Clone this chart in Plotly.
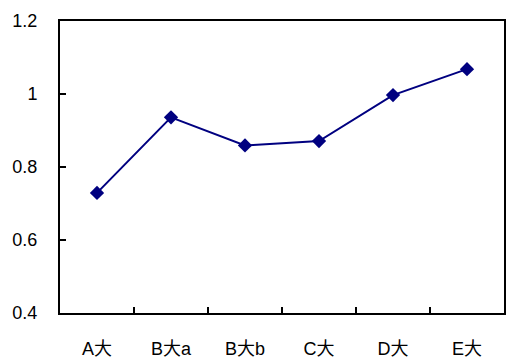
import plotly.graph_objects as go

categories = ["A大", "B大a", "B大b", "C大", "D大", "E大"]
values = [0.729, 0.936, 0.859, 0.871, 0.997, 1.068]
y_ticks = [0.4, 0.6, 0.8, 1.0, 1.2]
y_tick_labels = ["0.4", "0.6", "0.8", "1", "1.2"]

navy = "#000080"
font_family = "Liberation Sans, Noto Sans CJK JP, sans-serif"

fig = go.Figure(
    go.Scatter(
        x=categories,
        y=values,
        mode="lines+markers",
        line=dict(color=navy, width=2),
        marker=dict(symbol="diamond", size=11, color=navy),
        cliponaxis=False,
    )
)

fig.update_layout(
    width=508,
    height=358,
    margin=dict(l=60, r=4, t=21, b=45, autoexpand=False),
    paper_bgcolor="white",
    plot_bgcolor="white",
    showlegend=False,
    font=dict(family=font_family, size=18, color="black"),
)

fig.update_xaxes(
    type="category",
    range=[-0.5, 5.5],
    tickson="boundaries",
    ticks="inside",
    ticklen=6,
    tickwidth=1.5,
    tickcolor="black",
    showline=True,
    linecolor="black",
    linewidth=2,
    mirror=True,
    showgrid=False,
    automargin=False,
    ticklabelstandoff=18,
)

fig.update_yaxes(
    range=[0.4, 1.2],
    tickvals=y_ticks,
    ticktext=y_tick_labels,
    ticks="inside",
    ticklen=6,
    tickwidth=1.5,
    tickcolor="black",
    showline=True,
    linecolor="black",
    linewidth=2,
    mirror=True,
    showgrid=False,
    zeroline=False,
    automargin=False,
    ticklabelstandoff=17,
)

fig.write_html("out.html")
